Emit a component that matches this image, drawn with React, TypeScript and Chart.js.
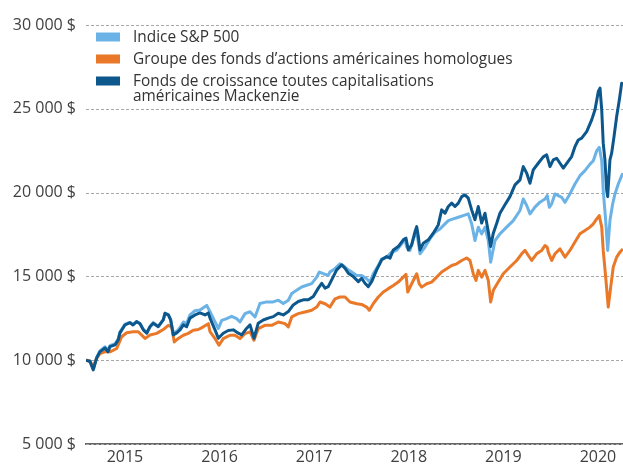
import React, { useEffect, useRef } from "react";
import { Chart, registerables } from "chart.js";

Chart.register(...registerables);

// [year (decimal), value $]
const sp500Series: [number, number][] = [
  [2014.708,10000],[2014.750,9950],[2014.785,9480],[2014.821,10180],[2014.856,10560],[2014.909,10800],[2014.941,10600],[2014.962,10870],[2015.015,10980],[2015.049,11280],[2015.067,11680],[2015.120,12150],[2015.173,12250],[2015.205,12120],[2015.244,12310],[2015.279,12190],[2015.314,11850],[2015.350,11650],[2015.385,12020],[2015.419,12230],[2015.472,12030],[2015.525,12420],[2015.543,12800],[2015.578,12720],[2015.603,12430],[2015.631,11600],[2015.667,11720],[2015.702,11950],[2015.737,12280],[2015.772,12200],[2015.807,12700],[2015.860,12950],[2015.913,13000],[2015.984,13270],[2016.019,12890],[2016.072,12290],[2016.107,11890],[2016.143,12380],[2016.195,12480],[2016.248,12620],[2016.301,12480],[2016.336,12280],[2016.389,12780],[2016.442,12890],[2016.495,12580],[2016.547,13380],[2016.618,13480],[2016.688,13480],[2016.741,13580],[2016.794,13380],[2016.847,13580],[2016.883,13980],[2016.935,14170],[2016.988,14370],[2017.041,14470],[2017.094,14570],[2017.147,14960],[2017.174,15260],[2017.217,15160],[2017.269,15060],[2017.287,15260],[2017.340,15460],[2017.393,15750],[2017.428,15650],[2017.464,15460],[2017.517,15260],[2017.570,15060],[2017.622,15060],[2017.675,14860],[2017.710,14660],[2017.745,15160],[2017.798,15650],[2017.834,16040],[2017.887,16150],[2017.940,16450],[2017.992,16550],[2018.045,16940],[2018.080,17240],[2018.098,16750],[2018.133,16550],[2018.168,17240],[2018.204,17640],[2018.221,17040],[2018.239,16350],[2018.292,16750],[2018.344,17240],[2018.397,17640],[2018.450,17830],[2018.485,18030],[2018.538,18330],[2018.591,18430],[2018.644,18530],[2018.696,18630],[2018.749,18730],[2018.785,18140],[2018.820,17140],[2018.855,17930],[2018.891,17540],[2018.926,17930],[2018.961,17140],[2018.986,15850],[2019.032,17140],[2019.084,17540],[2019.155,17940],[2019.225,18330],[2019.296,18930],[2019.331,19620],[2019.367,19230],[2019.402,18730],[2019.454,19130],[2019.507,19430],[2019.560,19620],[2019.584,19820],[2019.606,19120],[2019.631,19330],[2019.666,19920],[2019.701,19820],[2019.737,19720],[2019.772,19420],[2019.824,19920],[2019.877,20510],[2019.930,21010],[2019.983,21310],[2020.036,21700],[2020.071,21900],[2020.107,22500],[2020.134,22700],[2020.160,21900],[2020.176,20120],[2020.202,18330],[2020.223,16550],[2020.247,18330],[2020.276,19330],[2020.300,19920],[2020.335,20510],[2020.371,21010],[2020.385,21150]
];

const peerSeries: [number, number][] = [
  [2014.708,10000],[2014.750,9950],[2014.785,9600],[2014.821,10100],[2014.856,10400],[2014.909,10500],[2014.962,10500],[2015.033,10700],[2015.085,11400],[2015.138,11640],[2015.208,11700],[2015.261,11700],[2015.332,11300],[2015.385,11500],[2015.455,11600],[2015.525,11830],[2015.578,12080],[2015.614,11990],[2015.641,11090],[2015.684,11300],[2015.737,11490],[2015.789,11600],[2015.842,11790],[2015.895,11830],[2015.948,11990],[2016.001,12180],[2016.019,11700],[2016.072,11290],[2016.114,10890],[2016.159,11290],[2016.230,11490],[2016.283,11490],[2016.336,11290],[2016.389,11590],[2016.442,11690],[2016.484,11190],[2016.529,11890],[2016.600,12080],[2016.671,12080],[2016.741,12280],[2016.812,12180],[2016.847,11990],[2016.883,12580],[2016.952,12780],[2017.023,12880],[2017.094,12980],[2017.147,13170],[2017.182,13470],[2017.235,13370],[2017.287,13170],[2017.340,13660],[2017.393,13770],[2017.446,13770],[2017.499,13470],[2017.570,13370],[2017.622,13330],[2017.675,13170],[2017.703,12980],[2017.745,13370],[2017.798,13770],[2017.851,14070],[2017.904,14270],[2017.957,14460],[2018.009,14660],[2018.062,14960],[2018.091,15120],[2018.109,14070],[2018.151,14560],[2018.204,15160],[2018.231,14560],[2018.257,14360],[2018.310,14560],[2018.362,14660],[2018.415,14960],[2018.468,15260],[2018.521,15460],[2018.574,15650],[2018.627,15750],[2018.680,15950],[2018.732,16100],[2018.767,15950],[2018.802,15160],[2018.831,14760],[2018.855,15360],[2018.891,14960],[2018.926,15360],[2018.961,14760],[2018.986,13470],[2019.014,14170],[2019.066,14660],[2019.119,15160],[2019.190,15560],[2019.261,15950],[2019.314,16350],[2019.349,16550],[2019.384,16250],[2019.420,15950],[2019.472,16350],[2019.525,16550],[2019.560,16840],[2019.584,16740],[2019.595,16450],[2019.631,15950],[2019.666,16350],[2019.719,16640],[2019.772,16150],[2019.824,16550],[2019.877,17050],[2019.930,17540],[2019.983,17740],[2020.036,17940],[2020.071,18130],[2020.107,18430],[2020.134,18630],[2020.160,17940],[2020.176,16550],[2020.202,14960],[2020.229,13170],[2020.255,14360],[2020.282,15560],[2020.318,16150],[2020.353,16450],[2020.385,16640]
];

const fundSeries: [number, number][] = [
  [2014.708,10000],[2014.750,9920],[2014.785,9420],[2014.821,10140],[2014.856,10510],[2014.909,10730],[2014.941,10500],[2014.962,10810],[2015.015,10910],[2015.049,11210],[2015.067,11630],[2015.120,12100],[2015.173,12240],[2015.205,12100],[2015.244,12300],[2015.279,12170],[2015.314,11810],[2015.350,11610],[2015.385,12000],[2015.419,12210],[2015.472,12000],[2015.525,12400],[2015.543,12800],[2015.578,12700],[2015.603,12400],[2015.631,11510],[2015.667,11630],[2015.702,11810],[2015.737,12110],[2015.772,12000],[2015.807,12510],[2015.860,12700],[2015.913,12820],[2015.966,12700],[2016.001,12820],[2016.019,12510],[2016.072,11810],[2016.107,11310],[2016.159,11610],[2016.212,11770],[2016.265,11810],[2016.318,11610],[2016.354,11510],[2016.407,11910],[2016.442,12110],[2016.484,11310],[2016.529,12210],[2016.582,12400],[2016.635,12510],[2016.688,12600],[2016.741,12800],[2016.794,12700],[2016.847,12900],[2016.899,13300],[2016.952,13500],[2017.005,13600],[2017.058,13600],[2017.111,13800],[2017.164,14300],[2017.200,14590],[2017.235,14300],[2017.269,14390],[2017.305,14790],[2017.358,15390],[2017.411,15690],[2017.446,15490],[2017.481,15190],[2017.534,14990],[2017.587,14690],[2017.622,14890],[2017.657,14590],[2017.692,14390],[2017.728,14690],[2017.781,15390],[2017.834,15990],[2017.887,16180],[2017.922,16090],[2017.957,16580],[2018.009,16780],[2018.062,17180],[2018.091,17280],[2018.115,16580],[2018.151,16880],[2018.186,17670],[2018.204,17970],[2018.221,17380],[2018.239,16580],[2018.274,16980],[2018.327,17180],[2018.379,17580],[2018.432,18070],[2018.468,18970],[2018.503,18770],[2018.538,19170],[2018.574,19370],[2018.609,19170],[2018.644,19370],[2018.680,19760],[2018.714,19860],[2018.749,19670],[2018.785,18970],[2018.820,18380],[2018.855,19170],[2018.891,18180],[2018.926,18770],[2018.961,17670],[2018.986,16780],[2019.014,17580],[2019.050,18170],[2019.084,18770],[2019.137,19270],[2019.190,19760],[2019.243,20460],[2019.296,20760],[2019.331,21550],[2019.367,21160],[2019.402,20560],[2019.436,21360],[2019.489,21750],[2019.542,22130],[2019.578,22250],[2019.613,21550],[2019.648,21950],[2019.684,22050],[2019.719,21750],[2019.754,21460],[2019.790,21750],[2019.842,22150],[2019.877,22740],[2019.912,23140],[2019.948,23250],[2020.001,23640],[2020.054,24340],[2020.089,24940],[2020.124,26030],[2020.142,26230],[2020.160,24940],[2020.176,22950],[2020.194,21950],[2020.212,20160],[2020.223,19760],[2020.247,21950],[2020.265,22350],[2020.290,23340],[2020.318,24540],[2020.346,25530],[2020.371,26530],[2020.385,26430]
];

const xStart = 2014.708;
const xEnd = 2020.385;
const yearTickValues = [2015.12, 2016.12, 2017.12, 2018.12, 2019.12, 2020.12];
const yearLabels = ["2015", "2016", "2017", "2018", "2019", "2020"];
const yMin = 5000;
const yMax = 30000;
const yStep = 5000;

const seriesNames = [
  "Indice S&P 500",
  "Groupe des fonds d’actions américaines homologues",
  "Fonds de croissance toutes capitalisations américaines Mackenzie",
];
const legendLines = [
  ["Indice S&P 500"],
  ["Groupe des fonds d’actions américaines homologues"],
  ["Fonds de croissance toutes capitalisations", "américaines Mackenzie"],
];
const seriesColors = ["#6BB3E6", "#EA7829", "#0C578C"];

const FONT = "'Open Sans', 'Noto Sans', sans-serif";

const fmt = (v: number) =>
  String(v).replace(/\B(?=(\d{3})+(?!\d))/g, " ") + " $";

const dashedGridPlugin = {
  id: "dashedGrid",
  beforeDatasetsDraw(chart: any) {
    const { ctx, chartArea } = chart;
    const yScale = chart.scales.y;
    ctx.save();
    ctx.strokeStyle = "#a8a8a8";
    ctx.lineWidth = 1;
    ctx.setLineDash([3, 2]);
    yScale.ticks.forEach((t: any) => {
      const py = Math.round(yScale.getPixelForValue(t.value)) + 0.5;
      ctx.beginPath();
      ctx.moveTo(chartArea.left, py);
      ctx.lineTo(chartArea.right, py);
      ctx.stroke();
    });
    ctx.restore();
  },
};

const legendPlugin = {
  id: "customLegend",
  afterDraw(chart: any) {
    const { ctx, chartArea } = chart;
    ctx.save();
    const x0 = chartArea.left + 10;
    let y = chartArea.top + 12;
    ctx.font = `15.4px ${FONT}`;
    ctx.textBaseline = "middle";
    ctx.textAlign = "left";
    legendLines.forEach((lines, i) => {
      ctx.fillStyle = seriesColors[i];
      ctx.fillRect(x0, y - 4.5, 24, 9);
      ctx.fillStyle = "#333333";
      lines.forEach((line, j) => {
        ctx.fillText(line, x0 + 37, y + 1 + j * 15);
      });
      y += 22;
    });
    ctx.restore();
  },
};

export default function App() {
  const ref = useRef<HTMLCanvasElement | null>(null);
  useEffect(() => {
    if (!ref.current) return;
    const series = [sp500Series, peerSeries, fundSeries];
    const orders = [2, 1, 0];
    const chart = new Chart(ref.current, {
      type: "line",
      data: {
        datasets: series.map((s, i) => ({
          label: seriesNames[i],
          data: s.map(([x, y]) => ({ x, y })),
          borderColor: seriesColors[i],
          backgroundColor: seriesColors[i],
          borderWidth: 3,
          pointRadius: 0,
          tension: 0,
          borderJoinStyle: "round" as const,
          order: orders[i],
        })),
      },
      options: {
        responsive: false,
        animation: false,
        layout: { padding: { top: 25, right: 0, left: 0, bottom: 0 } },
        plugins: { legend: { display: false }, tooltip: { enabled: false } },
        scales: {
          x: {
            type: "linear",
            min: xStart,
            max: xEnd,
            bounds: "data",
            grid: { display: false, drawTicks: false },
            border: { display: true, color: "#666666", width: 2 },
            afterBuildTicks: (scale: any) => {
              scale.ticks = yearTickValues.map((value) => ({ value }));
            },
            afterFit: (scale: any) => {
              scale.height = 22;
            },
            ticks: {
              autoSkip: false,
              maxRotation: 0,
              padding: 4,
              color: "#404040",
              font: { family: FONT, size: 16 },
              callback: (_v: any, i: number) => yearLabels[i],
            },
          },
          y: {
            type: "linear",
            min: yMin,
            max: yMax,
            grid: { display: false, drawTicks: false },
            border: { display: false },
            afterFit: (scale: any) => {
              scale.width = 86;
            },
            ticks: {
              stepSize: yStep,
              padding: 10,
              color: "#404040",
              font: { family: FONT, size: 16 },
              callback: (v: any) => fmt(Number(v)),
            },
          },
        },
      },
      plugins: [dashedGridPlugin, legendPlugin],
    });
    return () => chart.destroy();
  }, []);
  return (
    <div style={{ position: "absolute", left: 0, top: 0, width: 623, height: 466, background: "#fff" }}>
      <canvas ref={ref} width={623} height={466} style={{ display: "block" }} />
    </div>
  );
}
